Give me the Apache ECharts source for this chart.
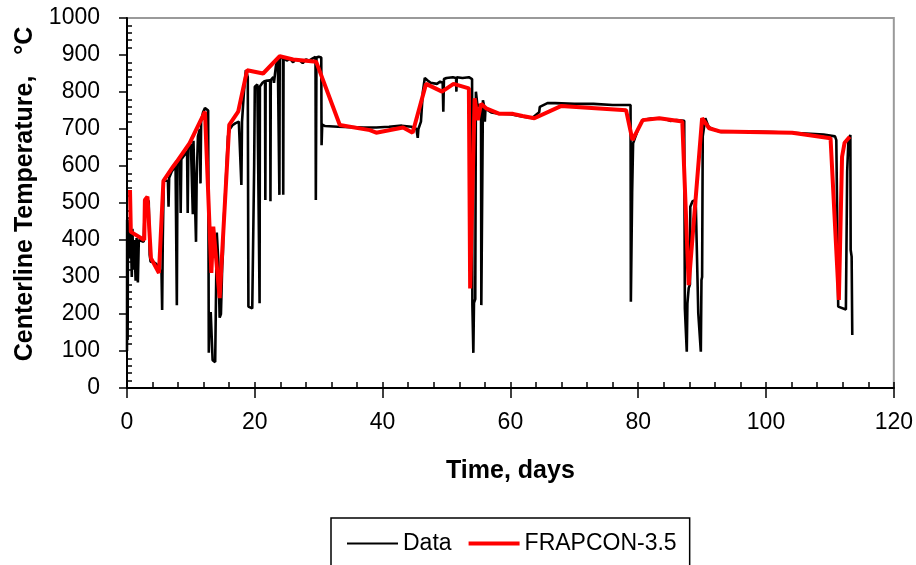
<!DOCTYPE html>
<html>
<head>
<meta charset="utf-8">
<script src="https://cdn.jsdelivr.net/npm/echarts@6/dist/echarts.min.js"></script>
<style>
html,body{margin:0;padding:0;background:#fff;}
#c{width:916px;height:565px;}
</style>
</head>
<body>
<div id="c"></div>
<script>
var seriesNames = ['Data', 'FRAPCON-3.5'];
var xTickLabels = ['0','20','40','60','80','100','120'];
var yTickLabels = ['0','100','200','300','400','500','600','700','800','900','1000'];

// Measured data: [time (days), centerline temperature (°C)]
var measuredData = [
  [0.0,100],[0.02,455],[0.1,130],[0.15,440],[0.3,350],[0.45,460],[0.6,420],[0.75,300],[0.85,430],
  [1.0,320],[1.15,400],[1.35,290],[1.5,405],[1.7,285],[1.85,400],[2.2,398],[2.6,395],[2.75,470],
  [2.9,510],[3.2,515],[3.4,505],[3.55,360],[3.7,341],[4.2,340],[4.6,335],[5.0,320],[5.4,315],
  [5.5,211],[5.6,400],[5.75,560],[6.0,565],[6.4,560],[6.5,490],[6.6,568],[7.0,585],[7.6,600],
  [7.8,224],[7.9,605],[8.3,615],[8.4,473],[8.5,618],[9.0,630],[9.4,640],[9.5,473],[9.6,645],
  [10.0,660],[10.2,665],[10.3,470],[10.4,668],[10.7,670],[10.8,395],[10.9,560],[11.1,680],
  [11.4,700],[11.5,553],[11.6,720],[11.9,745],[12.2,757],[12.5,757],[12.7,750],[12.8,95],
  [12.9,190],[13.1,205],[13.3,200],[13.4,75],[13.8,70],[14.0,72],[14.05,420],[14.3,340],
  [14.5,190],[14.7,200],[14.9,330],[15.0,360],[15.1,440],[15.3,500],[15.5,570],[15.8,680],
  [16.1,700],[16.5,710],[17.0,716],[17.5,720],[17.8,715],[17.9,549],[18.0,720],[18.3,800],
  [18.6,859],[18.9,840],[19.0,220],[19.3,225],[19.6,215],[19.8,220],[19.9,600],[20.0,814],
  [20.4,820],[20.7,815],[20.75,229],[20.8,815],[21.2,825],[21.6,830],[21.65,508],[21.7,830],
  [22.0,826],[22.4,832],[22.45,505],[22.5,832],[22.9,840],[23.0,825],[23.3,870],[23.6,890],
  [23.8,890],[23.85,522],[23.9,892],[24.4,893],[24.45,522],[24.5,893],[25.0,885],[25.5,890],
  [26.0,880],[26.3,888],[27.0,886],[27.5,878],[28.0,888],[28.5,885],[29.0,890],[29.5,895],
  [29.55,508],[29.65,893],[30.0,895],[30.4,893],[30.45,656],[30.55,712],[31.0,708],[33.0,706],
  [35.0,705],[37.0,704],[39.0,704],[41.0,706],[43.0,709],[44.5,706],[45.3,700],[45.5,676],
  [45.6,700],[46.0,720],[46.3,800],[46.6,838],[47.0,832],[47.5,825],[48.5,822],[49.0,828],
  [49.4,825],[49.5,747],[49.6,835],[50.0,838],[51.0,840],[51.5,838],[51.55,801],[51.6,840],
  [52.5,838],[53.5,840],[54.0,835],[54.05,224],[54.15,222],[54.2,95],[54.3,230],[54.5,240],
  [54.6,801],[54.8,770],[55.0,760],[55.4,765],[55.45,224],[55.6,226],[55.7,778],[55.9,760],
  [56.0,720],[56.1,755],[57.0,745],[58.0,742],[60.0,740],[62.0,733],[63.4,730],[64.5,745],
  [64.6,760],[65.8,770],[67.0,770],[70.0,768],[73.0,768],[76.0,765],[78.8,765],[78.85,233],
  [79.0,235],[79.05,527],[79.2,661],[79.5,676],[80.0,700],[80.7,724],[82.0,728],[84.0,728],
  [85.0,722],[86.0,724],[87.2,722],[87.3,216],[87.5,218],[87.6,98],[87.7,229],[87.9,270],
  [88.1,280],[88.15,490],[88.5,505],[89.0,508],[89.3,505],[89.4,202],[89.7,200],[89.8,98],
  [89.9,292],[90.0,300],[90.1,680],[90.5,729],[91.0,706],[92.0,697],[93.0,692],[95.0,693],
  [98.0,693],[101.0,692],[104.0,690],[107.0,687],[109.0,685],[110.8,680],[111.0,670],
  [111.3,220],[111.6,215],[112.5,212],[112.6,215],[112.7,585],[112.9,670],[113.2,684],
  [113.25,373],[113.4,355],[113.5,143]
];

// FRAPCON-3.5 prediction: [time (days), centerline temperature (°C)]
var frapconData = [
  [0.47,535],[0.6,422],[2.7,400],[2.8,508],[3.2,517],[3.75,351],[5.0,311],[5.7,560],[7.2,598],
  [7.8,612],[9.8,662],[12.2,747],[13.2,311],[13.5,436],[14.5,243],[16.0,711],[17.4,747],
  [18.8,859],[21.3,850],[23.9,897],[26.0,888],[29.6,882],[33.3,711],[38.0,697],[39.0,690],
  [43.2,704],[44.7,690],[46.8,822],[49.3,801],[51.1,822],[53.5,810],[53.7,269],[54.4,783],
  [54.9,724],[55.4,768],[56.2,756],[58.3,741],[60.4,741],[61.9,735],[63.75,729],[67.9,762],
  [78.1,751],[79.1,670],[80.7,724],[83.3,729],[86.9,720],[87.9,278],[90.0,729],[91.1,702],
  [92.9,693],[104.1,690],[110.1,675],[111.4,238],[111.9,625],[112.3,663],[113.1,679]
];

var FONT = 'Liberation Sans, Arial, sans-serif';
var chart = echarts.init(document.getElementById('c'), null, {renderer: 'canvas'});

var xAxisBase = {
  type: 'value', min: 0, max: 120, interval: 20
};

chart.setOption({
  animation: false,
  backgroundColor: '#ffffff',
  grid: {
    left: 127, right: 21, top: 18, bottom: 177,
    show: true, borderColor: '#9a9a9a', borderWidth: 2, backgroundColor: 'transparent'
  },
  legend: {
    data: [
      {name: seriesNames[0], icon: 'path://M0,0H50V2H0Z'},
      {name: seriesNames[1], icon: 'path://M0,0H50V4H0Z'}
    ],
    left: 331, top: 518,
    padding: [14, 13, 14, 16],
    itemWidth: 51, itemHeight: 23, itemGap: 17,
    borderColor: '#000', borderWidth: 1.5,
    textStyle: {fontFamily: FONT, fontSize: 23, color: '#000'}
  },
  xAxis: [
    Object.assign({}, xAxisBase, {
      name: 'Time, days', nameLocation: 'middle', nameGap: 71,
      nameTextStyle: {fontFamily: FONT, fontSize: 25, fontWeight: 'bold', color: '#000'},
      axisLine: {show: true, onZero: false, lineStyle: {color: '#000', width: 2}},
      axisTick: {show: true, length: 10, lineStyle: {color: '#000', width: 1.5}},
      minorTick: {show: true, splitNumber: 5, length: -6, lineStyle: {color: '#000', width: 1.5}},
      axisLabel: {
        fontFamily: FONT, fontSize: 23, color: '#000', margin: 23,
        formatter: function (v) { return xTickLabels[Math.round(v / 20)]; }
      },
      splitLine: {show: false}
    }),
    Object.assign({}, xAxisBase, {
      position: 'bottom',
      axisLine: {show: false},
      axisTick: {show: true, inside: true, length: 6, lineStyle: {color: '#000', width: 1.5}},
      axisLabel: {show: false},
      splitLine: {show: false}
    })
  ],
  yAxis: {
    type: 'value', min: 0, max: 1000, interval: 100,
    name: 'Centerline Temperature,   °C', nameLocation: 'middle', nameGap: 88,
    nameTextStyle: {fontFamily: FONT, fontSize: 25, fontWeight: 'bold', color: '#000', padding: [0, 0, 0, 18]},
    axisLine: {show: true, onZero: false, lineStyle: {color: '#000', width: 2}},
    axisTick: {show: true, length: 8, lineStyle: {color: '#000', width: 1.5}},
    minorTick: {show: true, splitNumber: 5, length: -5, lineStyle: {color: '#000', width: 1.5}},
    axisLabel: {
      fontFamily: FONT, fontSize: 23, color: '#000', margin: 27,
      formatter: function (v) { return yTickLabels[Math.round(v / 100)]; }
    },
    splitLine: {show: false}
  },
  series: [
    {
      name: seriesNames[0], type: 'line', data: measuredData,
      symbol: 'none', showSymbol: false, smooth: false,
      lineStyle: {color: '#000', width: 2.6},
      itemStyle: {color: '#000'},
      z: 2
    },
    {
      name: seriesNames[1], type: 'line', data: frapconData,
      symbol: 'none', showSymbol: false, smooth: false,
      lineStyle: {color: '#ff0000', width: 4},
      itemStyle: {color: '#ff0000'},
      z: 3
    }
  ]
});
</script>
</body>
</html>
